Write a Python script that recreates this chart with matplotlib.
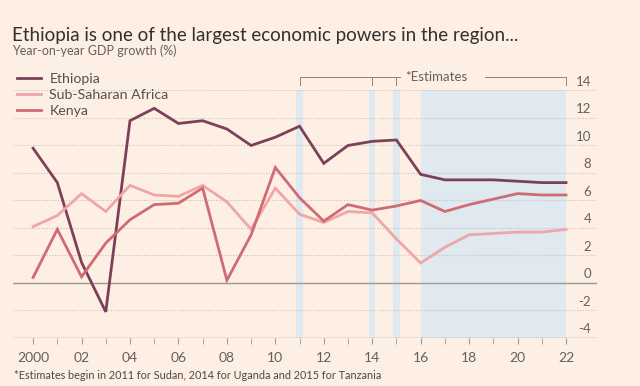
import matplotlib.pyplot as plt
from matplotlib.transforms import blended_transform_factory

years = list(range(2000, 2023))
ethiopia = [9.8, 7.3, 1.5, -2.1, 11.8, 12.7, 11.6, 11.8, 11.2, 10.0, 10.6, 11.4,
            8.7, 10.0, 10.3, 10.4, 7.9, 7.5, 7.5, 7.5, 7.4, 7.3, 7.3]
ssa = [4.1, 4.9, 6.5, 5.2, 7.1, 6.4, 6.3, 7.1, 5.9, 3.9, 6.9, 5.0,
       4.4, 5.2, 5.1, 3.2, 1.45, 2.6, 3.5, 3.6, 3.7, 3.7, 3.9]
kenya = [0.4, 3.9, 0.45, 2.9, 4.6, 5.7, 5.8, 6.9, 0.2, 3.5, 8.4, 6.2,
         4.5, 5.7, 5.3, 5.6, 6.0, 5.2, 5.7, 6.1, 6.5, 6.4, 6.4]
series_names = ["Ethiopia", "Sub-Saharan Africa", "Kenya"]
y_ticks = [-4, -2, 0, 2, 4, 6, 8, 10, 12, 14]
x_tick_years = list(range(2000, 2023, 2))
x_tick_labels = ["2000"] + ["%02d" % (y % 100) for y in x_tick_years[1:]]
estimate_starts = [2011, 2014, 2015]

BG = "#fdefe3"
GREY = "#66605c"
SHADE = "#dfe9ef"
colors = ["#7d4058", "#f0a6a6", "#cf6b72"]

plt.rcParams["font.family"] = ["Lato", "DejaVu Sans"]

fig = plt.figure(figsize=(6.4, 3.86), dpi=100, facecolor=BG)
ax = fig.add_axes([0.0203, 0.1244, 0.9125, 0.6412], facecolor=BG)
ax.set_xlim(1999.17, 2023.28)
ax.set_ylim(-4, 14)

# shaded estimate bands
for yr in estimate_starts:
    ax.axvspan(yr - 0.13, yr + 0.13, color=SHADE, lw=0, zorder=0)
ax.axvspan(2016, 2022, color=SHADE, lw=0, zorder=0)

# grid
for v in y_ticks:
    if v in (0, -4):
        ax.axhline(v, color="#a09a96", lw=1.0, zorder=1)
    else:
        ax.axhline(v, color="#c9c0ba", lw=0.8, ls=(0, (1, 1.5)), zorder=1)

for vals, c, name in zip([ethiopia, ssa, kenya], colors, series_names):
    ax.plot(years, vals, color=c, lw=2.0, label=name, zorder=3,
            solid_joinstyle="miter")

# right-side y labels above the gridlines
trans = blended_transform_factory(ax.transAxes, ax.transData)
for v in y_ticks:
    ax.annotate(str(v), xy=(0.99, v), xycoords=trans, xytext=(0, 2),
                textcoords="offset points", ha="right", va="bottom",
                fontsize=9.5, color=GREY)

for side in ax.spines.values():
    side.set_visible(False)
ax.set_yticks([])
ax.set_xticks(years, minor=True)
ax.set_xticks(x_tick_years)
ax.set_xticklabels(x_tick_labels, fontsize=10, color=GREY)
ax.tick_params(axis="x", which="both", length=4, color="#a09a96", pad=6)

# estimates bracket
by = 15.0
ax.plot([2011, 2015.15], [by, by], color="#8a8480", lw=0.7, clip_on=False)
ax.plot([2018.65, 2022], [by, by], color="#8a8480", lw=0.7, clip_on=False)
for yr in estimate_starts + [2022]:
    ax.plot([yr, yr], [by, by - 0.6], color="#8a8480", lw=0.7, clip_on=False)
ax.text(2015.35, by, "*Estimates", fontsize=9.5, color=GREY, va="center",
        ha="left", clip_on=False)

leg = ax.legend(loc="upper left", bbox_to_anchor=(-0.003, 1.095), frameon=False,
                fontsize=10.2, handlelength=1.7, handletextpad=0.6,
                labelspacing=0.3, borderaxespad=0)
for t in leg.get_texts():
    t.set_color("#555050")

fig.text(0.019, 0.908, "Ethiopia is one of the largest economic powers in the region...",
         fontsize=13.5, color="#33302e", va="center")
fig.text(0.019, 0.868, "Year-on-year GDP growth (%)", fontsize=9, color=GREY,
         va="center")
fig.text(0.022, 0.028,
         "*Estimates begin in 2011 for Sudan, 2014 for Uganda and 2015 for Tanzania",
         fontsize=7.8, color="#4d4845", va="center")

fig.savefig("out.png", dpi=100, facecolor=BG)
